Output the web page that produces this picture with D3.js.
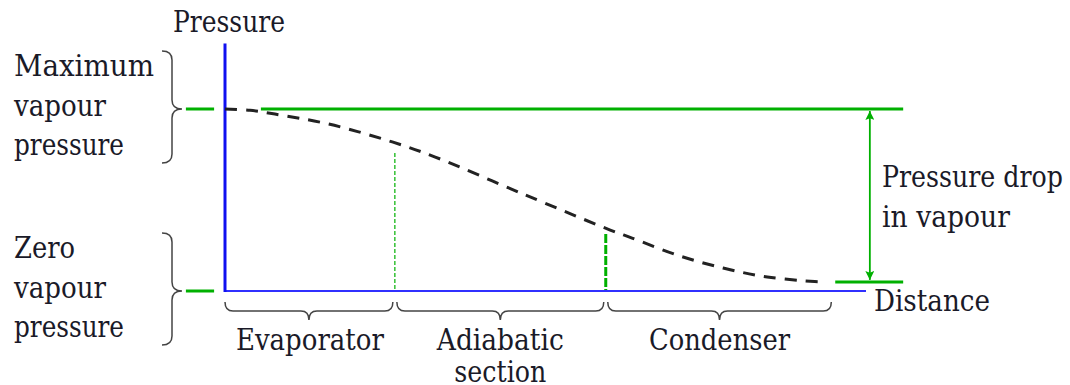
<!DOCTYPE html>
<html>
<head>
<meta charset="utf-8">
<script src="https://cdn.jsdelivr.net/npm/d3@7"></script>
<style>
  html, body { margin: 0; padding: 0; background: #fff; }
  svg { display: block; }
</style>
</head>
<body>
<svg id="chart" width="1070" height="385"></svg>
<script>
// ---- data ----
// vapour pressure profile along the heat pipe (distance 0..100, pressure 0..1 = max vapour pressure)
const curveDistance = [0, 3.9, 7.8, 16.1, 26.1, 32.8, 46.5, 60.1, 63.5, 70.5, 77.7, 84.6, 92.0, 93.6];
const curvePressure = [1.0, 0.993, 0.972, 0.918, 0.819, 0.736, 0.533, 0.335, 0.291, 0.198, 0.126, 0.077, 0.052, 0.05];
const sectionNames = ["Evaporator", "Adiabatic|section", "Condenser"];
const sectionBounds = [0, 26.5, 59.4, 94.9];
const markerDistance = [26.5, 59.4];
const markerPressure = [0.758, 0.313];
const maxPressure = 1.0;
const minVapourPressure = 0.05;
const zeroPressure = 0;
const leftLabels = ["Maximum|vapour|pressure", "Zero|vapour|pressure"];
const leftLabelPressure = [maxPressure, zeroPressure];
const axisLabels = ["Pressure", "Distance"];
const dropLabel = "Pressure drop|in vapour";

// ---- layout (target rendered widths of the serif text lines) ----
const lineWidth = {
  "Maximum": 140, "vapour": 92, "pressure": 110, "Zero": 61, "Pressure": 112, "Distance": 116,
  "Pressure drop": 181, "in vapour": 128, "Evaporator": 148, "Adiabatic": 127, "section": 92, "Condenser": 141
};

// ---- scales ----
const svg = d3.select("#chart");
const x = d3.scaleLinear().domain([0, 100]).range([225, 866]);
const y = d3.scaleLinear().domain([0, 1]).range([291, 109]);

const green = "#00b000";
const blue = "#1010f0";
const font = "'DejaVu Serif', 'Liberation Serif', serif";

// green dashed section markers
const mk = markerDistance.map((d, i) => ({d, p: markerPressure[i]}));
svg.append("line").attr("x1", x(mk[0].d)).attr("x2", x(mk[0].d))
  .attr("y1", y(mk[0].p)).attr("y2", y(0))
  .attr("stroke", green).attr("stroke-width", 1.2).attr("stroke-dasharray", "4,2");
svg.append("line").attr("x1", x(mk[1].d)).attr("x2", x(mk[1].d))
  .attr("y1", y(mk[1].p)).attr("y2", y(0))
  .attr("stroke", green).attr("stroke-width", 3).attr("stroke-dasharray", "9,2");

// axes
svg.append("line").attr("x1", x(0)).attr("x2", x(100)).attr("y1", y(0)).attr("y2", y(0))
  .attr("stroke", "#3030ff").attr("stroke-width", 2);
svg.append("line").attr("x1", x(0)).attr("x2", x(0)).attr("y1", y(1.36)).attr("y2", y(0) + 1)
  .attr("stroke", blue).attr("stroke-width", 3);

// green horizontal lines
svg.append("line").attr("x1", x(5.6)).attr("x2", x(105.8)).attr("y1", y(maxPressure)).attr("y2", y(maxPressure))
  .attr("stroke", green).attr("stroke-width", 3);
svg.append("line").attr("x1", x(95.2)).attr("x2", x(105.8)).attr("y1", y(minVapourPressure)).attr("y2", y(minVapourPressure))
  .attr("stroke", green).attr("stroke-width", 3);
// left short ticks
leftLabelPressure.forEach(p => {
  svg.append("line").attr("x1", x(-6.1)).attr("x2", x(-1.7)).attr("y1", y(p)).attr("y2", y(p))
    .attr("stroke", green).attr("stroke-width", 3);
});

// pressure drop arrow
const defs = svg.append("defs");
defs.append("marker").attr("id", "arr").attr("viewBox", "0 0 10 10").attr("refX", 10).attr("refY", 5)
  .attr("markerWidth", 13).attr("markerHeight", 9).attr("markerUnits", "userSpaceOnUse")
  .attr("orient", "auto-start-reverse")
  .append("path").attr("d", "M0,0 L10,5 L0,10 L2,5 Z").attr("fill", green);
svg.append("line").attr("x1", x(100.6)).attr("x2", x(100.6))
  .attr("y1", y(maxPressure) + 2).attr("y2", y(minVapourPressure) - 2)
  .attr("stroke", green).attr("stroke-width", 1.8)
  .attr("marker-start", "url(#arr)").attr("marker-end", "url(#arr)");

// dashed pressure curve
const pts = curveDistance.map((d, i) => [d, curvePressure[i]]);
svg.append("path").datum(pts)
  .attr("d", d3.line().x(d => x(d[0])).y(d => y(d[1])).curve(d3.curveCatmullRom.alpha(0.5)))
  .attr("fill", "none").attr("stroke", "#222").attr("stroke-width", 3)
  .attr("stroke-dasharray", "12,9");

// braces
function hBrace(x1, x2, yy, h) {
  const m = (x1 + x2) / 2, r = 8, yh = yy + h / 2;
  return `M${x1},${yy} Q${x1},${yh} ${x1 + r},${yh} L${m - r},${yh} Q${m},${yh} ${m},${yy + h} ` +
         `Q${m},${yh} ${m + r},${yh} L${x2 - r},${yh} Q${x2},${yh} ${x2},${yy}`;
}
function vBrace(y1, y2, xx, w, m) {
  const r = 9, xh = xx + w / 2;
  return `M${xx},${y1} Q${xh},${y1} ${xh},${y1 + r} L${xh},${m - r} Q${xh},${m} ${xx + w},${m} ` +
         `Q${xh},${m} ${xh},${m + r} L${xh},${y2 - r} Q${xh},${y2} ${xx},${y2}`;
}
const braceG = svg.append("g").attr("fill", "none").attr("stroke", "#444").attr("stroke-width", 1.5);
sectionNames.forEach((n, i) => {
  const a = x(sectionBounds[i]) + (i === 0 ? 0 : 2);
  const b = x(sectionBounds[i + 1]) - 2;
  braceG.append("path").attr("d", hBrace(a, b, y(0) + 11, 18));
});
leftLabelPressure.forEach(p => {
  braceG.append("path").attr("d", vBrace(y(p) - 58, y(p) + 54, 162, 20, y(p)));
});

function addText(str, tx, ty, lh, anchor) {
  str.split("|").forEach((line, j) => {
    const t = svg.append("text").attr("font-family", font).attr("font-size", 30)
      .attr("fill", "#1a1a28")
      .attr("text-anchor", anchor || "start").attr("x", tx).attr("y", ty + j * lh)
      .text(line);
    if (lineWidth[line]) t.attr("textLength", lineWidth[line]).attr("lengthAdjust", "spacingAndGlyphs");
  });
}

// section labels
sectionNames.forEach((n, i) => {
  const cx = (x(sectionBounds[i]) + x(sectionBounds[i + 1])) / 2;
  addText(n, cx, 350, 32, "middle");
});

// left labels
const leftBase = [76, 258];
leftLabels.forEach((lbl, i) => addText(lbl, 14, leftBase[i], 39.5));

// axis labels
addText(axisLabels[0], 173, 32, 0);
addText(axisLabels[1], 874, 311, 0);

// pressure drop label
addText(dropLabel, 882, 187, 40);
</script>
</body>
</html>
